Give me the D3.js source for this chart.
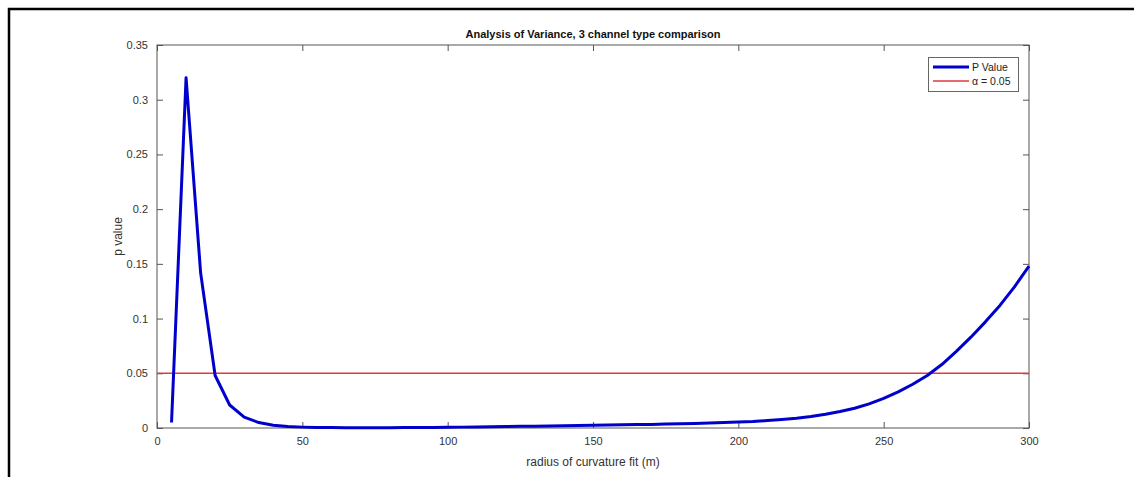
<!DOCTYPE html>
<html><head><meta charset="utf-8">
<script src="https://cdn.jsdelivr.net/npm/d3@7"></script>
<style>body{margin:0;background:#fff;}svg{display:block;font-family:Arial,"Liberation Sans",sans-serif;}</style>
</head><body>
<svg id="c" width="1134" height="477"></svg>
<script>
const radius = [5,10,15,20,25,30,35,40,45,50,55,60,65,70,75,80,85,90,95,100,105,110,115,120,125,130,135,140,145,150,155,160,165,170,175,180,185,190,195,200,205,210,215,220,225,230,235,240,245,250,255,260,265,270,275,280,285,290,295,300];
const pValue = [0.005,0.32,0.142,0.048,0.021,0.010,0.005,0.0025,0.0013,0.0008,0.0005,0.0004,0.0003,0.0003,0.0003,0.0003,0.0004,0.0004,0.0005,0.0006,0.0008,0.0009,0.0011,0.0013,0.0015,0.0017,0.0019,0.0021,0.0023,0.0025,0.0027,0.0029,0.0031,0.0033,0.0036,0.0039,0.0042,0.0046,0.0050,0.0055,0.0060,0.0068,0.0078,0.0090,0.0105,0.0125,0.0150,0.0180,0.0220,0.0270,0.0330,0.0400,0.0480,0.0580,0.0700,0.0830,0.0970,0.1120,0.1290,0.1480];
const alphaLevel = 0.05;
const xTicks = [0,50,100,150,200,250,300];
const yTicks = [0,0.05,0.1,0.15,0.2,0.25,0.3,0.35];
const seriesNames = ["P Value","\u03b1 = 0.05"];

const svg = d3.select("#c");
const L=157,R=1029,T=45,B=428;
const x = d3.scaleLinear().domain([0,300]).range([L,R]);
const y = d3.scaleLinear().domain([0,0.35]).range([B,T]);
const axCol="#555", txtCol="#333";

// outer frame
svg.append("path").attr("d","M9,477V9H1134").attr("fill","none").attr("stroke","#000").attr("stroke-width",2.5);

// axes box
svg.append("rect").attr("x",L).attr("y",T).attr("width",R-L).attr("height",B-T).attr("fill","#fff").attr("stroke",axCol).attr("stroke-width",1);

const gx = svg.append("g").attr("transform",`translate(0,${B})`)
  .call(d3.axisBottom(x).tickValues(xTicks).tickFormat(d3.format("d")).tickSize(-6).tickPadding(9));
const gxt = svg.append("g").attr("transform",`translate(0,${T})`)
  .call(d3.axisTop(x).tickValues(xTicks).tickFormat("").tickSize(-6));
const gy = svg.append("g").attr("transform",`translate(${L},0)`)
  .call(d3.axisLeft(y).tickValues(yTicks).tickFormat(d=>d===0?"0":String(+d.toFixed(2))).tickSize(-6).tickPadding(9));
const gyr = svg.append("g").attr("transform",`translate(${R},0)`)
  .call(d3.axisRight(y).tickValues(yTicks).tickFormat("").tickSize(-6));
[gx,gxt,gy,gyr].forEach(g=>{
  g.select(".domain").remove();
  g.selectAll(".tick line").attr("stroke",axCol);
  g.selectAll("text").attr("fill",txtCol).attr("font-size",11);
});

// alpha line
svg.append("line").attr("x1",x(0)).attr("x2",x(300)).attr("y1",y(alphaLevel)).attr("y2",y(alphaLevel))
  .attr("stroke","#dd3b3b").attr("stroke-width",1.5);

// p value line
svg.append("path").datum(radius.map((r,i)=>[r,pValue[i]]))
  .attr("d",d3.line().x(d=>x(d[0])).y(d=>y(d[1])))
  .attr("fill","none").attr("stroke","#0000cc").attr("stroke-width",3).attr("stroke-linejoin","round");

// title and labels
svg.append("text").attr("x",(L+R)/2).attr("y",38).attr("text-anchor","middle").attr("font-size",11).attr("font-weight","bold").attr("fill","#111").text("Analysis of Variance, 3 channel type comparison");
svg.append("text").attr("x",(L+R)/2).attr("y",466).attr("text-anchor","middle").attr("font-size",12).attr("fill",txtCol).text("radius of curvature fit (m)");
svg.append("text").attr("transform",`translate(122,${(T+B)/2}) rotate(-90)`).attr("text-anchor","middle").attr("font-size",12).attr("fill",txtCol).text("p value");

// legend
const lg = svg.append("g");
lg.append("rect").attr("x",928.5).attr("y",57.5).attr("width",90).attr("height",34).attr("fill","#fff").attr("stroke","#666");
const legCols=["#0000cc","#dd3b3b"], legW=[3,1.5];
seriesNames.forEach((n,i)=>{
  const yy=67+i*14;
  lg.append("line").attr("x1",933).attr("x2",969).attr("y1",yy).attr("y2",yy).attr("stroke",legCols[i]).attr("stroke-width",legW[i]);
  lg.append("text").attr("x",972).attr("y",yy+4).attr("font-size",10.5).attr("fill","#222").text(n);
});
</script>
</body></html>
